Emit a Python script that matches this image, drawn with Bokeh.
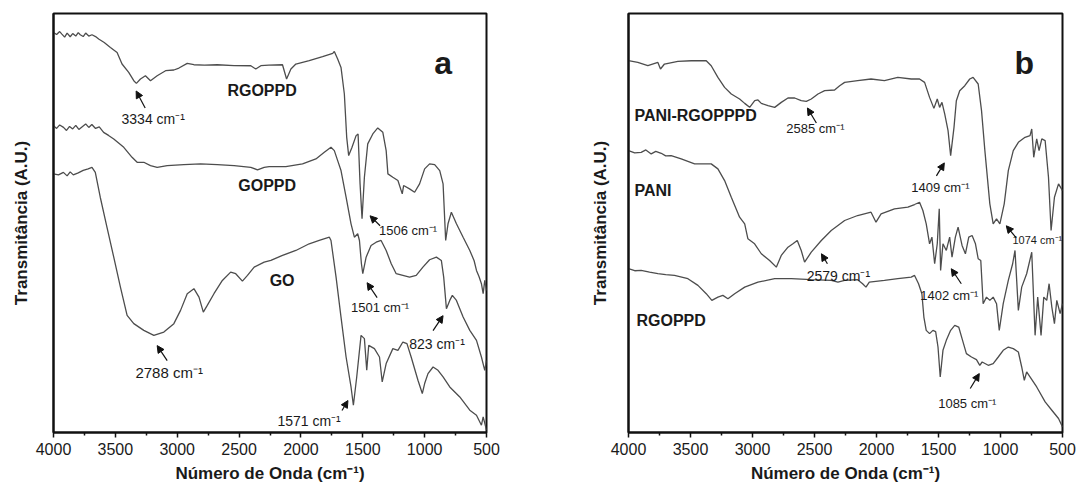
from bokeh.plotting import figure
from bokeh.models import Range1d, FixedTicker, Label, Arrow, NormalHead
from bokeh.layouts import row
from bokeh.embed import file_html
from bokeh.resources import INLINE

FONT = "Liberation Sans"

# ---------------- data (wavenumber cm-1, transmittance A.U.) ----------------
x_ticks = [4000, 3500, 3000, 2500, 2000, 1500, 1000, 500]
x_minor = [3750, 3250, 2750, 2250, 1750, 1250, 750]

# Panel a
a_rgoppd_wn = [4000, 3975, 3950, 3932, 3910, 3890, 3865, 3845, 3820, 3800, 3784, 3760, 3740, 3715, 3689,
               3660, 3635, 3590, 3540, 3486, 3446, 3392, 3351, 3330, 3297, 3257, 3216, 3162, 3094, 3027,
               2986, 2919, 2865, 2780, 2676, 2540, 2405, 2365, 2324, 2260, 2149, 2116, 2081, 2041, 1933,
               1825, 1743, 1730, 1703, 1676, 1649, 1630, 1614, 1587, 1554, 1538, 1522, 1506, 1487, 1460,
               1419, 1379, 1338, 1311, 1297, 1257, 1216, 1181, 1170, 1122, 1081, 1041, 1000, 960, 919,
               878, 851, 830, 811, 784, 743, 689, 635, 600, 581, 560, 541, 527, 514, 500]
a_rgoppd_t = [400.6, 398.5, 401.5, 399.0, 396.0, 400.0, 396.3, 399.5, 397.0, 400.5, 398.3, 396.5, 400.0, 397.0, 398.3,
              396.5, 394.0, 390.5, 385.6, 380.6, 369.0, 360.6, 352.3, 349.6, 354.0, 357.3, 352.3, 357.3, 362.3, 363.0,
              365.0, 369.6, 368.3, 368.0, 368.3, 367.5, 367.3, 364.0, 367.3, 368.0, 368.3, 354.0, 364.0, 369.0, 372.3,
              376.3, 379.6, 381.6, 374.0, 365.6, 339.0, 295.6, 277.3, 285.6, 297.3, 299.0, 249.0, 214.0, 255.6, 289.0,
              299.0, 305.0, 300.6, 282.3, 259.0, 255.6, 252.3, 239.0, 247.3, 244.0, 240.6, 249.0, 264.0, 269.0, 268.3,
              262.3, 249.0, 192.3, 209.0, 220.6, 209.0, 195.6, 182.3, 172.0, 162.3, 156.0, 149.0, 139.0, 152.3, 142.0]

a_goppd_wn = [4000, 3975, 3950, 3919, 3895, 3870, 3845, 3820, 3795, 3770, 3740, 3715, 3690, 3660, 3630,
              3595, 3555, 3513, 3432, 3365, 3324, 3270, 3216, 3162, 3081, 2946, 2811, 2676, 2540, 2405,
              2351, 2297, 2257, 2122, 1987, 1879, 1811, 1757, 1730, 1703, 1676, 1635, 1595, 1568, 1541,
              1527, 1511, 1500, 1473, 1433, 1392, 1352, 1311, 1270, 1230, 1176, 1122, 1068, 1014, 960,
              905, 865, 846, 824, 797, 776, 743, 689, 635, 581, 541, 514, 500]
a_goppd_t = [307.3, 304.5, 308.0, 305.6, 302.5, 306.5, 304.0, 307.5, 303.5, 306.0, 309.0, 305.5, 308.5, 304.5, 306.0,
             300.6, 297.5, 294.0, 285.6, 275.6, 270.6, 270.6, 267.3, 265.6, 267.3, 268.3, 269.0, 268.3, 267.3, 265.6,
             263.0, 265.6, 266.3, 266.3, 269.0, 274.0, 280.6, 285.6, 282.3, 272.3, 262.3, 235.6, 209.0, 195.6, 199.0,
             192.3, 169.0, 159.0, 175.6, 187.3, 190.6, 192.3, 182.3, 169.0, 159.0, 157.3, 155.6, 157.3, 165.6, 173.0,
             175.6, 172.3, 155.6, 124.0, 132.3, 137.3, 132.3, 115.6, 102.3, 92.3, 75.6, 62.3, 72.3]

a_go_wn = [4000, 3960, 3920, 3890, 3865, 3840, 3800, 3760, 3720, 3689, 3662, 3622, 3568, 3513, 3459,
           3405, 3351, 3270, 3189, 3108, 3027, 2973, 2919, 2865, 2824, 2789, 2757, 2703, 2635, 2568,
           2527, 2473, 2432, 2378, 2297, 2243, 2149, 2041, 1933, 1852, 1770, 1757, 1716, 1676, 1635,
           1595, 1576, 1549, 1514, 1487, 1468, 1452, 1406, 1365, 1343, 1311, 1257, 1216, 1176, 1143,
           1109, 1054, 1019, 1000, 973, 932, 892, 851, 797, 716, 635, 581, 541, 527, 500]
a_go_t = [259.0, 258.0, 260.5, 257.0, 261.0, 258.0, 260.0, 262.5, 264.0, 265.6, 260.6, 235.6, 205.6, 175.6, 145.6,
          117.3, 109.0, 102.3, 97.3, 100.6, 109.0, 122.3, 139.0, 144.0, 135.6, 120.6, 127.3, 139.0, 152.3, 160.6,
          159.0, 151.6, 157.3, 165.6, 170.6, 172.3, 177.3, 182.3, 189.0, 192.3, 195.6, 192.3, 155.6, 115.6, 75.6,
          45.6, 27.3, 55.6, 97.3, 94.0, 62.3, 87.3, 84.0, 75.6, 50.6, 69.0, 84.0, 82.3, 90.6, 89.0,
          75.6, 52.3, 39.0, 49.0, 59.0, 65.6, 62.3, 55.6, 45.6, 35.6, 22.3, 17.3, 7.3, 15.6, 2.3]

# Panel b
b_pani_rgo_wn = [4000, 3925, 3844, 3763, 3742, 3710, 3602, 3494, 3373, 3333, 3279, 3225, 3171, 3104, 3063,
                 3023, 2982, 2956, 2929, 2875, 2821, 2768, 2714, 2660, 2607, 2566, 2526, 2472, 2418, 2338,
                 2297, 2257, 2152, 2044, 1936, 1828, 1720, 1653, 1612, 1572, 1537, 1510, 1491, 1472, 1450,
                 1423, 1402, 1375, 1356, 1329, 1288, 1248, 1221, 1180, 1153, 1126, 1086, 1059, 1032, 1005,
                 970, 937, 897, 856, 802, 762, 748, 732, 708, 689, 667, 640, 613, 592, 565, 532, 500]
b_pani_rgo_t = [372.3, 370.6, 367.3, 370.6, 364.0, 369.0, 371.6, 372.3, 372.3, 367.3, 355.6, 345.6, 339.0, 334.0, 329.6,
                325.6, 332.3, 333.0, 329.6, 327.3, 325.6, 330.6, 335.0, 335.0, 332.3, 331.6, 334.0, 339.0, 342.3, 343.0,
                347.3, 350.6, 352.3, 354.0, 352.3, 355.6, 354.0, 354.0, 350.6, 335.6, 324.6, 334.0, 325.6, 330.6, 319.0,
                302.3, 277.3, 305.6, 332.3, 342.3, 347.3, 354.0, 355.6, 349.0, 322.3, 282.3, 229.0, 209.0, 214.0, 209.0,
                229.0, 262.3, 282.3, 290.6, 295.6, 297.3, 304.0, 275.6, 294.0, 282.3, 294.0, 292.3, 255.6, 202.3, 235.6, 249.0, 242.3]

b_pani_wn = [4000, 3950, 3898, 3860, 3817, 3780, 3736, 3700, 3656, 3575, 3467, 3333, 3279, 3225, 3171,
             3104, 3063, 3037, 2983, 2929, 2862, 2808, 2768, 2714, 2674, 2639, 2607, 2580, 2526, 2445,
             2365, 2257, 2152, 2044, 2004, 1963, 1855, 1747, 1693, 1653, 1626, 1599, 1572, 1553, 1531,
             1510, 1494, 1483, 1464, 1437, 1410, 1391, 1364, 1342, 1310, 1283, 1256, 1229, 1202, 1180,
             1159, 1140, 1113, 1086, 1059, 1032, 1010, 978, 937, 902, 883, 856, 829, 789, 748,
             721, 700, 673, 651, 627, 608, 586, 565, 546, 519, 500]
b_pani_t = [282.3, 280.0, 280.6, 283.0, 279.0, 281.5, 279.6, 277.0, 277.3, 274.0, 269.0, 269.0, 264.0, 252.3, 235.6,
            215.6, 209.0, 194.0, 189.0, 179.0, 172.3, 165.6, 177.3, 185.6, 189.0, 192.3, 182.3, 170.6, 180.6, 192.3,
            202.3, 212.3, 217.3, 220.6, 210.6, 219.0, 224.0, 225.6, 228.3, 230.6, 222.3, 209.0, 189.0, 195.6, 169.0,
            189.0, 224.0, 162.3, 189.0, 182.3, 195.6, 175.6, 195.6, 205.6, 187.3, 179.0, 195.6, 197.3, 189.0, 174.0,
            172.3, 129.0, 135.6, 132.3, 135.6, 129.0, 102.3, 129.0, 152.3, 169.0, 182.3, 122.3, 145.6, 159.0, 180.6,
            97.3, 135.6, 97.3, 135.6, 132.3, 149.0, 125.6, 109.0, 132.3, 119.0, 129.0]

b_rgoppd_wn = [4000, 3950, 3898, 3830, 3763, 3700, 3629, 3521, 3440, 3373, 3328, 3279, 3239, 3198, 3144,
               3063, 2956, 2821, 2687, 2526, 2365, 2311, 2257, 2152, 2112, 2085, 2058, 1936, 1828, 1720,
               1693, 1661, 1634, 1618, 1599, 1572, 1545, 1523, 1504, 1486, 1464, 1437, 1402, 1369, 1337,
               1310, 1275, 1234, 1194, 1167, 1148, 1099, 1059, 1018, 978, 937, 897, 856, 829, 808,
               789, 762, 708, 640, 586, 532, 500]
b_rgoppd_t = [164.0, 162.0, 162.3, 160.5, 159.0, 158.0, 157.3, 154.0, 147.3, 139.0, 132.3, 135.6, 137.3, 134.0, 139.0,
              145.6, 150.6, 154.0, 154.0, 153.0, 152.3, 150.6, 152.3, 153.0, 149.0, 145.6, 150.6, 152.3, 154.0, 155.6,
              157.3, 149.0, 139.0, 115.6, 102.3, 99.0, 102.3, 101.0, 85.6, 55.6, 82.3, 92.3, 102.3, 107.3, 105.6,
              94.0, 79.0, 75.6, 73.0, 67.3, 70.6, 67.3, 69.0, 75.6, 82.3, 85.6, 84.0, 80.6, 65.6, 52.3,
              60.6, 55.6, 45.6, 30.6, 22.3, 14.0, 5.6]

a_series = ["RGOPPD", "GOPPD", "GO"]
b_series = ["PANI-RGOPPPD", "PANI", "RGOPPD"]

a_peak_labels = ["3334 cm⁻¹", "2788 cm⁻¹", "1506 cm⁻¹", "1501 cm⁻¹", "823 cm⁻¹", "1571 cm⁻¹"]
b_peak_labels = ["2585 cm⁻¹", "2579 cm⁻¹", "1409 cm⁻¹", "1074 cm⁻¹", "1402 cm⁻¹", "1085 cm⁻¹"]

# ---------------- layout / style ----------------
LINE = "#4d4d4d"


def make_panel(width, left_b, right_b, ylab_standoff):
    p = figure(width=width, height=487, x_range=Range1d(4000, 500), y_range=Range1d(0, 419.6),
               output_backend="svg", toolbar_location=None,
               min_border_left=left_b, min_border_right=right_b, min_border_top=13, min_border_bottom=55)
    p.xgrid.visible = False
    p.ygrid.visible = False
    p.background_fill_color = "white"
    p.border_fill_color = "white"
    p.outline_line_color = "#111111"
    p.outline_line_width = 2
    p.xaxis.ticker = FixedTicker(ticks=x_ticks, minor_ticks=x_minor)
    p.yaxis.ticker = FixedTicker(ticks=[], minor_ticks=[])
    for ax in (p.xaxis[0], p.yaxis[0]):
        ax.axis_line_width = 2
        ax.axis_line_color = "#111111"
        ax.major_tick_in = 0
        ax.minor_tick_in = 0
        ax.major_tick_out = 5
        ax.minor_tick_out = 3
        ax.major_tick_line_width = 1.5
        ax.minor_tick_line_width = 1.5
        ax.major_tick_line_color = "#111111"
        ax.minor_tick_line_color = "#111111"
        ax.major_label_text_font = FONT
        ax.major_label_text_font_size = "16px"
        ax.major_label_text_color = "#1a1a1a"
        ax.axis_label_text_font = FONT
        ax.axis_label_text_font_style = "bold"
        ax.axis_label_text_color = "#1a1a1a"
    p.xaxis.major_label_standoff = 5
    p.xaxis.axis_label = "Número de Onda (cm⁻¹)"
    p.xaxis.axis_label_text_font_size = "17px"
    p.xaxis.axis_label_standoff = 6
    p.yaxis.axis_label = "Transmitância (A.U.)"
    p.yaxis.axis_label_text_font_size = "17px"
    p.yaxis.axis_label_standoff = ylab_standoff
    return p


def add_label(p, x, y, text, size, bold=False, align="center", baseline="middle"):
    p.add_layout(Label(x=x, y=y, text=text, text_font=FONT, text_font_size=size,
                       text_font_style="bold" if bold else "normal", text_color="#1a1a1a",
                       text_align=align, text_baseline=baseline))


def add_arrow(p, x0, y0, x1, y1):
    p.add_layout(Arrow(end=NormalHead(size=7, fill_color="#111111", line_color="#111111", line_width=1),
                       x_start=x0, y_start=y0, x_end=x1, y_end=y1,
                       line_color="#111111", line_width=1.2))


# Panel a
pa = make_panel(583, 53, 97, 23)
pa.line(a_rgoppd_wn, a_rgoppd_t, line_color=LINE, line_width=1.3)
pa.line(a_goppd_wn, a_goppd_t, line_color=LINE, line_width=1.3)
pa.line(a_go_wn, a_go_t, line_color=LINE, line_width=1.3)

a_name_pos = [(2314, 342), (2273, 247), (2152, 152)]
for name, (x, y) in zip(a_series, a_name_pos):
    add_label(pa, x, y, name, "16px", bold=True)
add_label(pa, 851, 370, "a", "32px", bold=True, baseline="alphabetic")

a_txt_pos = [(3194, 314, "14px"), (3065, 60, "15px"), (1134, 202, "13px"),
             (1360, 125, "13px"), (900, 89, "14px"), (1934, 12, "14px")]
for t, (x, y, s) in zip(a_peak_labels, a_txt_pos):
    add_label(pa, x, y, t, s)
a_arrows = [(3259, 325, 3332, 342), (3081, 72, 3162, 87), (1360, 207, 1441, 217),
            (1384, 135, 1465, 150), (932, 102, 851, 117), (1668, 22, 1620, 32)]
for a in a_arrows:
    add_arrow(pa, *a)

# Panel b
pb = make_panel(495, 45, 16, 19)
pb.line(b_pani_rgo_wn, b_pani_rgo_t, line_color=LINE, line_width=1.3)
pb.line(b_pani_wn, b_pani_t, line_color=LINE, line_width=1.3)
pb.line(b_rgoppd_wn, b_rgoppd_t, line_color=LINE, line_width=1.3)

b_name_pos = [(3952, 317), (3952, 242), (3936, 112)]
for name, (x, y) in zip(b_series, b_name_pos):
    add_label(pb, x, y, name, "16px", bold=True, align="left")
add_label(pb, 808, 370, "b", "32px", bold=True, baseline="alphabetic")

b_txt_pos = [(2493, 304, "13px"), (2307, 157, "14px"), (1485, 245, "13px"),
             (703, 193, "11px"), (1413, 137, "13px"), (1268, 29, "13px")]
for t, (x, y, s) in zip(b_peak_labels, b_txt_pos):
    add_label(pb, x, y, t, s)
b_arrows = [(2485, 310, 2557, 325), (2396, 169, 2444, 179), (1517, 257, 1453, 270),
            (873, 195, 953, 207), (1316, 149, 1397, 164), (1244, 44, 1171, 59)]
for a in b_arrows:
    add_arrow(pb, *a)

layout = row(pa, pb)
open("out.html", "w").write(file_html(layout, INLINE))
